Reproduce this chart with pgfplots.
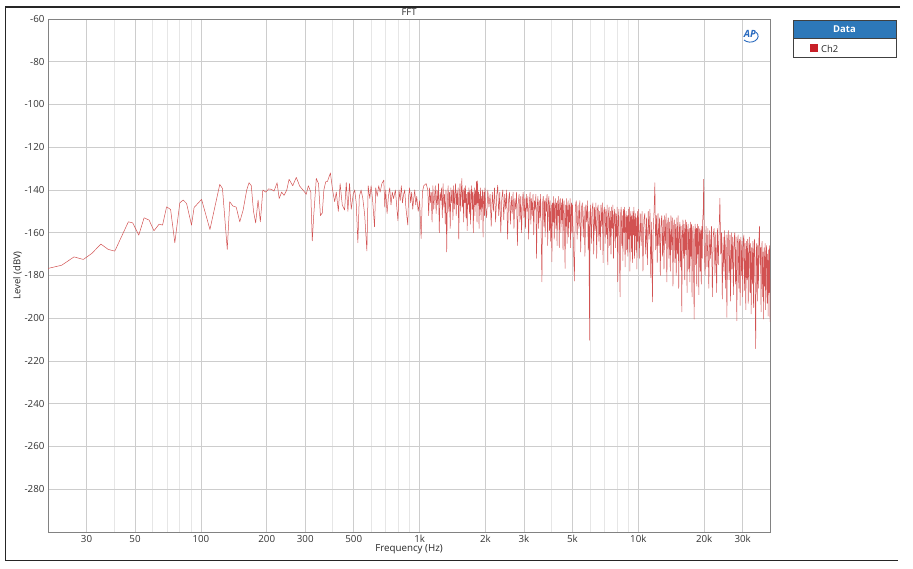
\documentclass[border=0pt]{standalone}
\usepackage{fontspec}
\setmainfont{Open Sans}
\usepackage{pgfplots}
\pgfplotsset{compat=1.18}
\definecolor{apred}{RGB}{210,82,82}
\definecolor{legred}{RGB}{200,32,40}
\definecolor{apblue}{RGB}{45,120,185}
\definecolor{logoblue}{RGB}{40,105,190}
\begin{document}
\begin{tikzpicture}
\begin{scope}[x=1bp,y=1bp]
\useasboundingbox (0,0) rectangle (913,569);
\draw[line width=1.3bp,black!85] (900,562) -- (5.5,562) -- (5.5,8.5) -- (898,8.5);
\end{scope}
\begin{axis}[
  at={(48bp,37bp)}, anchor=south west,
  width=722bp, height=513bp, scale only axis,
  xmode=log, xmin=20, xmax=40000, ymin=-300, ymax=-60,
  xtick={30,50,100,200,300,500,1000,2000,3000,5000,10000,20000,30000},
  xticklabels={30,50,100,200,300,500,1k,2k,3k,5k,10k,20k,30k},
  minor xtick={40,60,70,80,90,400,600,700,800,900,4000,6000,7000,8000,9000,40000},
  ytick={-280,-260,-240,-220,-200,-180,-160,-140,-120,-100,-80,-60},
  yticklabels={-280,-260,-240,-220,-200,-180,-160,-140,-120,-100,-80,-60},
  grid=both,
  major grid style={draw={rgb,255:red,205;green,205;blue,205}, line width=0.6bp},
  minor grid style={draw={rgb,255:red,230;green,230;blue,230}, line width=0.6bp},
  major tick length=0, minor tick length=0,
  axis line style={draw={rgb,255:red,130;green,130;blue,130}, line width=0.8bp},
  tick label style={font=\fontsize{9.8}{10}\selectfont, text=black!80},
  xlabel={Frequency (Hz)},
  xlabel style={font=\fontsize{9.8}{10}\selectfont, text=black!85, yshift=5.5bp},
  ylabel={Level (dBV)},
  ylabel style={font=\fontsize{9.5}{10}\selectfont, text=black!85, yshift=-4bp},
  clip=true,
]
\addplot[color=apred, line width=0.5bp, line join=round] table {
f v
20 -176.7
23.1 -175.2
26.3 -171.3
29 -172.5
31.7 -169.7
34.9 -165.3
37.7 -167.8
40.4 -168.6
46.6 -154.9
48.8 -155.4
52 -161.1
55 -153
58 -154.1
61 -159.1
64.4 -156
66.8 -156.4
69.7 -147.9
72.7 -149.1
76 -164.7
80.1 -146
83 -144.7
86 -146.3
90.6 -156.4
93.1 -148.2
100.7 -144.4
110 -158.5
122 -137.4
125.5 -139.3
132 -167.8
135.5 -145.5
140 -147.5
145 -148
150.6 -154.9
156 -149.4
162 -140
166 -136.6
170 -138
174 -150
178 -155.4
182.6 -144.7
187 -154.9
192 -140
198 -141
204 -139.5
210 -139.7
216 -140.5
223 -136.6
228 -144
234 -141
240 -142.5
247 -140
253 -135
263 -138
273 -134.1
283 -138.2
295 -140.4
303 -142
310 -138
318 -141
323 -163.8
328 -152
337 -134.6
345 -137
352 -152
359 -150.7
365 -140
372 -136.2
379 -136
391 -132
400 -140
409 -145.5
416 -141
425 -150
433 -137
443 -147
454 -149.4
462 -136.6
470 -150
478 -137
487 -149
497 -142
505 -140
513 -146
522 -164.7
530 -143
540 -140
550 -144
561 -151.8
574 -168.5
582 -138
592 -144
600 -138
610 -145
622 -157.2
630 -139
640 -143
650 -138
660 -141
672 -137
686 -135.4
693 -148
700 -140
710 -151
720 -143
730 -139
740 -147
750 -141
760 -144
775 -140
796 -154.4
805 -140
815 -145
825 -138
835 -146
845 -142
855 -140
865 -148
883 -156.4
890 -143
900 -139
910 -146
920 -141
930 -149
940 -144
950 -140
960 -147
970 -143
985 -150
1000 -145
1016 -162.7
1030 -141
1045 -138
1071 -137
1090 -140
1100 -152
1110 -139
1120 -146
1130 -141
1140 -155
1150 -138
1160 -149
1170 -143
1180 -138
1190 -151
1200 -140
1210 -147
1220 -137
1230 -160
1240 -141
1250 -145
1260 -139
1270 -153
1280 -137
1290 -148
1300 -142
1310 -156
1320 -140
1330 -169
1340 -145
1350 -138
1360 -150
1370 -141
1380 -158
1390 -139
1400 -146
1410 -140
1420 -154
1430 -138
1440 -149
1450 -142
1460 -137
1470 -152
1480 -140
1490 -147
1500 -139
1510 -163
1520 -143
1530 -137
1540 -150
1550 -141
1560 -134.6
1570 -148
1580 -140
1590 -155
1600 -139
1610 -146
1620 -138
1630 -153
1640 -142
1650 -159
1660 -141
1670 -147
1680 -139
1690 -151
1700 -140
1710 -156
1720 -143
1730 -138
1740 -149
1750 -141
1760 -160
1770 -144
1780 -139
1790 -152
1800 -140
1810 -147
1820 -136
1830 -155
1840 -135.7
1850 -146
1860 -141
1870 -158
1880 -142
1890 -149
1900 -139
1910 -154
1920 -143
1930 -148
1940 -140
1950 -162
1960 -144
1970 -141
1980 -152
1990 -139
2000 -147
2025 -153
2050 -140
2075 -148
2100 -142
2125 -157
2150 -141
2175 -150
2200 -139
2225 -155
2250 -143
2275 -137.7
2300 -152
2325 -141
2350 -160
2375 -144
2400 -140
2425 -154
2450 -142
2475 -149
2500 -140
2525 -163
2550 -145
2575 -141
2600 -156
2625 -143
2650 -151
2675 -141
2700 -158
2725 -144
2750 -149
2775 -141
2800 -166
2825 -146
2850 -142
2875 -155
2900 -143
2925 -160
2950 -145
2975 -141
3000 -153
3025 -144
3050 -158
3075 -142
3100 -150
3125 -143
3150 -163
3175 -146
3200 -141
3225 -156
3250 -144
3275 -152
3300 -142
3325 -161
3350 -145
3375 -149
3400 -142
3425 -172
3450 -147
3475 -143
3500 -158
3525 -145
3550 -153
3575 -142
3600 -164
3625 -183
3650 -146
3675 -143
3700 -157
3725 -145
3750 -162
3775 -144
3800 -150
3825 -142
3850 -166
3875 -146
3900 -143
3925 -159
3950 -145
3975 -164
4000 -147
4025 -173.6
4050 -146
4075 -155
4100 -143
4125 -163
4150 -147
4175 -144
4200 -158
4225 -146
4250 -166
4275 -145
4300 -152
4325 -143
4350 -167
4375 -147
4400 -144
4425 -160
4450 -146
4475 -154
4500 -144
4525 -168
4550 -148
4575 -145
4600 -161
4625 -176.7
4650 -147
4675 -157
4700 -144
4725 -165
4750 -148
4775 -145
4800 -162
4825 -147
4850 -155
4875 -144
4900 -167
4925 -149
4950 -146
4975 -160
5000 -147
5050 -166
5100 -182.6
5150 -148
5200 -145
5250 -163
5300 -147
5350 -158
5400 -145
5450 -169
5500 -148
5550 -146
5600 -162
5650 -148
5700 -171
5750 -147
5800 -155
5850 -145
5900 -168
5950 -150
5975 -210.3
6000 -160
6050 -147
6100 -165
6150 -149
6200 -146
6250 -170
6300 -148
6350 -159
6400 -146
6450 -172
6500 -149
6550 -147
6600 -164
6650 -150
6700 -168
6750 -147
6800 -157
6850 -146
6900 -174
6950 -150
7000 -148
7050 -165
7100 -149
7150 -161
7200 -147
7250 -175
7300 -151
7350 -148
7400 -166
7450 -150
7500 -170
7550 -148
7600 -158
7650 -147
7700 -172
7750 -152
7800 -149
7850 -167
7900 -151
7950 -162
8000 -148
8050 -183
8100 -153
8150 -149
8200 -170
8250 -190
8300 -151
8350 -148
8400 -166
8450 -152
8500 -173
8550 -149
8600 -160
8650 -148
8700 -176
8750 -153
8800 -150
8850 -168
8900 -152
8950 -171
9000 -149
9050 -163
9100 -148
9150 -178
9200 -153
9250 -150
9300 -169
9350 -152
9400 -174
9450 -150
9500 -161
9550 -148
9600 -172
9650 -154
9700 -151
9750 -168
9800 -153
9850 -177
9900 -150
9950 -164
10000 -149
10100 -172
10200 -151
10300 -166
10400 -150
10500 -178
10600 -154
10700 -151
10800 -170
10900 -153
11000 -175
11100 -150
11200 -163
11300 -149
11400 -181
11500 -155
11600 -192.4
11700 -158
11800 -150
11900 -136.6
12000 -168
12100 -152
12200 -174
12300 -151
12400 -166
12500 -153
12600 -180
12700 -155
12800 -152
12900 -171
13000 -154
13100 -177
13200 -152
13300 -165
13400 -151
13500 -183
13600 -156
13700 -153
13800 -172
13900 -155
14000 -178
14100 -152
14200 -168
14300 -153
14400 -185
14500 -157
14600 -154
14700 -174
14800 -156
14900 -180
15000 -153
15100 -170
15200 -152
15300 -186
15400 -158
15500 -155
15600 -176
15700 -157
15800 -197
15900 -160
16000 -154
16100 -172
16200 -156
16300 -182
16400 -154
16500 -168
16600 -155
16700 -188
16800 -159
16900 -156
17000 -177
17100 -158
17200 -183
17300 -155
17400 -171
17500 -156
17600 -190
17700 -160
17800 -157
17900 -179
18000 -200.4
18100 -161
18200 -156
18300 -175
18400 -158
18500 -185
18600 -156
18700 -170
18800 -157
18900 -189
19000 -161
19100 -158
19200 -178
19300 -159
19400 -184
19500 -157
19600 -172
19700 -154
19800 -150
19900 -135
20000 -165
20200 -180
20400 -157
20600 -176
20800 -158
21000 -186
21200 -159
21400 -172
21600 -157
21800 -190
22000 -161
22200 -158
22400 -180
22600 -160
22800 -188
23000 -158
23200 -175
23400 -159
23600 -143.9
23800 -170
24000 -160
24200 -191
24400 -162
24600 -178
24800 -159
25000 -186
25200 -161
25400 -199.6
25600 -163
25800 -159
26000 -182
26200 -161
26400 -192
26600 -160
26800 -177
27000 -162
27200 -189
27400 -163
27600 -160
27800 -184
28000 -162
28200 -201.2
28400 -164
28600 -161
28800 -186
29000 -163
29200 -194
29400 -162
29600 -180
29800 -164
30000 -190
30200 -163
30400 -161
30600 -187
30800 -165
31000 -196
31200 -164
31400 -182
31600 -163
31800 -193
32000 -166
32200 -162
32400 -188
32600 -165
32800 -198
33000 -167
33200 -184
33400 -164
33600 -195
33800 -166
34000 -163
34200 -190
34400 -214.2
34600 -168
34800 -165
35000 -192
35200 -166
35400 -186
35600 -163
35800 -156.9
36000 -175
36200 -167
36400 -197
36600 -168
36800 -164
37000 -190
37200 -169
37400 -200.4
37600 -167
37800 -185
38000 -165
38200 -196
38400 -169
38600 -166
38800 -193
39000 -170
39200 -199
39400 -168
39600 -188
39800 -166
40000 -201.7
};
\end{axis}
\begin{scope}[x=1bp,y=1bp]
% title
\node[text=black!85, font=\fontsize{9.5}{10}\selectfont, inner sep=0pt] at (409,557) {FFT};
% AP logo
\node[text=logoblue, font=\bfseries\itshape\fontsize{10}{10}\selectfont, inner sep=0pt] at (750,535) {AP};
\draw[logoblue, line width=0.9bp] (744,529) arc[start angle=220, end angle=400, x radius=8bp, y radius=6bp];
% legend box
\fill[apblue] (793,531) rectangle (896,549);
\draw[black!75, line width=0.8bp] (793,512) rectangle (896,549);
\draw[black!75, line width=0.6bp] (793,531) -- (896,531);
\node[text=white, font=\bfseries\fontsize{9.5}{10}\selectfont] at (844.5,540) {Data};
\fill[legred] (810,516.5) rectangle (818,524.5);
\node[anchor=west, inner sep=0pt, text=black!85, font=\fontsize{9.5}{10}\selectfont] at (821,520.5) {Ch2};
\end{scope}
\end{tikzpicture}
\end{document}
